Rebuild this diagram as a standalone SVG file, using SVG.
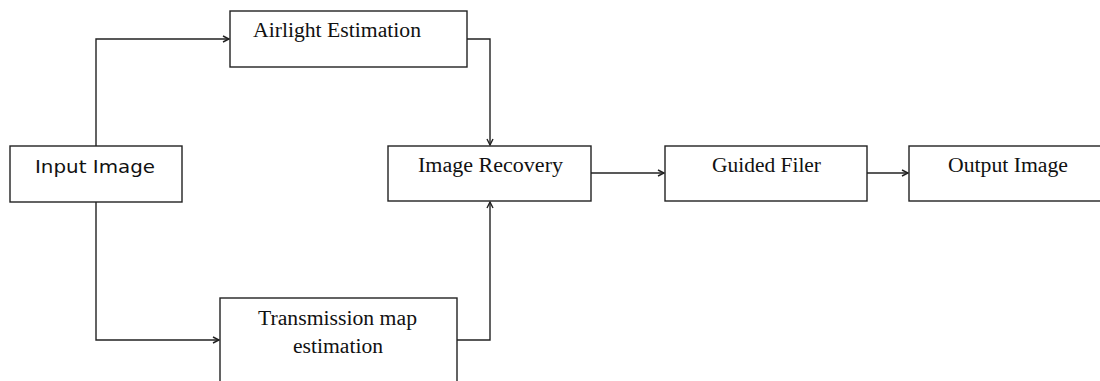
<svg xmlns="http://www.w3.org/2000/svg" width="1100" height="381" viewBox="0 0 1100 381">
<style>
.box{fill:#fff;stroke:#222;stroke-width:1.4}
.lbl{font-family:"Liberation Serif","Times New Roman",serif;font-size:20px;fill:#111}
.sans{font-family:"DejaVu Sans","Liberation Sans",sans-serif;font-size:18px;fill:#111}
.con{fill:none;stroke:#222;stroke-width:1.4}
</style>
<defs>
<marker id="arr" markerUnits="userSpaceOnUse" markerWidth="10" markerHeight="10" refX="7" refY="4" orient="auto">
<path d="M1,1 L7,4 L1,7" fill="none" stroke="#222" stroke-width="1.4"/>
</marker>
</defs>
<rect width="1100" height="381" fill="#fff"/>
<g id="connectors">
<path class="con" d="M96,146 V39 H229" marker-end="url(#arr)"/>
<path class="con" d="M96,202 V340 H219" marker-end="url(#arr)"/>
<path class="con" d="M467,39 H490 V145" marker-end="url(#arr)"/>
<path class="con" d="M457,340 H490 V202" marker-end="url(#arr)"/>
<path class="con" d="M591,173 H664" marker-end="url(#arr)"/>
<path class="con" d="M867,173 H908" marker-end="url(#arr)"/>
</g>
<g id="input">
<rect class="box" x="10" y="146" width="172" height="56"/>
<text class="sans" x="35" y="173" textLength="120" lengthAdjust="spacingAndGlyphs">Input Image</text>
</g>
<g id="airlight">
<rect class="box" x="230" y="11" width="237" height="56"/>
<text class="lbl" x="253" y="37" textLength="168" lengthAdjust="spacingAndGlyphs">Airlight Estimation</text>
</g>
<g id="transmission">
<rect class="box" x="220" y="298" width="237" height="100"/>
<text class="lbl" x="258" y="325" textLength="159" lengthAdjust="spacingAndGlyphs">Transmission map</text>
<text class="lbl" x="293" y="353" textLength="90" lengthAdjust="spacingAndGlyphs">estimation</text>
</g>
<g id="recovery">
<rect class="box" x="388" y="146" width="203" height="55"/>
<text class="lbl" x="418" y="172" textLength="145" lengthAdjust="spacingAndGlyphs">Image Recovery</text>
</g>
<g id="guided">
<rect class="box" x="665" y="146" width="202" height="55"/>
<text class="lbl" x="712" y="172" textLength="109" lengthAdjust="spacingAndGlyphs">Guided Filer</text>
</g>
<g id="output">
<rect class="box" x="909" y="146" width="210" height="55"/>
<text class="lbl" x="948" y="172" textLength="120" lengthAdjust="spacingAndGlyphs">Output Image</text>
</g>
</svg>
